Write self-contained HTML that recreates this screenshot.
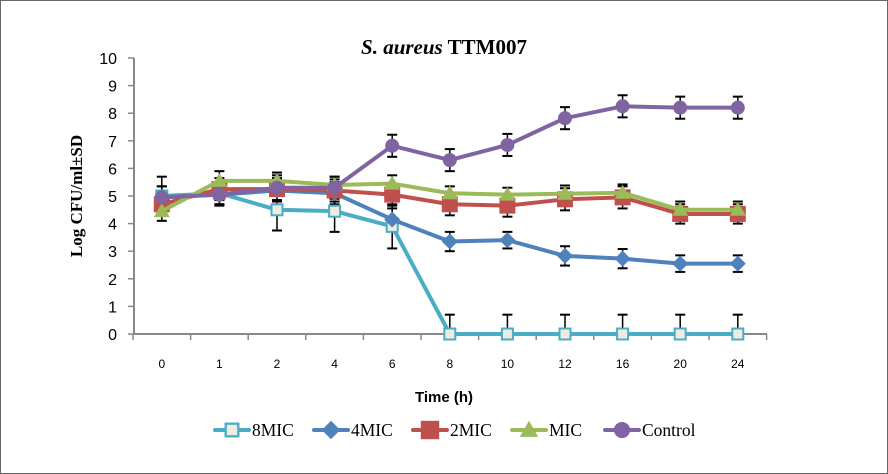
<!DOCTYPE html>
<html><head><meta charset="utf-8"><style>
body{margin:0;background:#fff}
svg{display:block}
</style></head><body>
<svg id="s" width="888" height="474" xmlns="http://www.w3.org/2000/svg">
<rect x="0.5" y="0.5" width="887" height="473" fill="#fff" stroke="#666"/>
<text x="444" y="54" text-anchor="middle" font-family="Liberation Serif, serif" font-size="21" font-weight="bold"><tspan font-style="italic">S. aureus</tspan> TTM007</text>
<text transform="translate(82,196) rotate(-90)" text-anchor="middle" font-family="Liberation Serif, serif" font-size="17" font-weight="bold">Log CFU/ml±SD</text>
<text x="444" y="402" text-anchor="middle" font-family="Liberation Sans, sans-serif" font-size="15" font-weight="bold">Time (h)</text>
<g id="g"></g>
</svg>
<script>
var g=document.getElementById('g'),h='';
function X(i){return 133+57.6*(i+0.5)}
function Y(v){return 334-27.6*v}
h+='<line x1="134" y1="58" x2="134" y2="334" stroke="#888" stroke-width="2"/>';
h+='<line x1="133" y1="334" x2="767" y2="334" stroke="#888" stroke-width="2"/>';
for(var v=0;v<=10;v++){h+='<line x1="128" y1="'+Y(v)+'" x2="134" y2="'+Y(v)+'" stroke="#888" stroke-width="1.5"/>';
h+='<text x="117" y="'+(Y(v)+6)+'" text-anchor="end" font-family="Liberation Sans, sans-serif" font-size="16">'+v+'</text>';}
var lab=[0,1,2,4,6,8,10,12,16,20,24];
for(var i=0;i<=11;i++){var x=133+57.6*i;h+='<line x1="'+x+'" y1="334" x2="'+x+'" y2="340" stroke="#888" stroke-width="1.5"/>';}
for(var i=0;i<11;i++)h+='<text x="'+X(i)+'" y="368" text-anchor="middle" font-family="Liberation Sans, sans-serif" font-size="12">'+lab[i]+'</text>';
var S=[
{c:'#4bacc6',m:'sq',d:[5.0,5.1,4.5,4.45,3.9,0,0,0,0,0,0],e:[0.7,0.4,0.75,0.75,0.8,0.7,0.7,0.7,0.7,0.7,0.7]},
{c:'#4f81bd',m:'di',d:[4.95,5.05,5.2,5.1,4.15,3.35,3.4,2.83,2.73,2.55,2.55],e:[0.4,0.35,0.4,0.4,0.4,0.35,0.3,0.35,0.35,0.3,0.3]},
{c:'#c0504d',m:'bs',d:[4.7,5.25,5.25,5.2,5.05,4.7,4.65,4.88,4.95,4.35,4.35],e:[0.4,0.4,0.4,0.4,0.4,0.4,0.4,0.4,0.4,0.35,0.35]},
{c:'#9bbb59',m:'tr',d:[4.45,5.55,5.55,5.4,5.45,5.1,5.05,5.08,5.12,4.5,4.5],e:[0.35,0.35,0.3,0.3,0.3,0.25,0.25,0.3,0.3,0.3,0.3]},
{c:'#8064a2',m:'ci',d:[4.95,5.05,5.3,5.3,6.82,6.3,6.85,7.82,8.25,8.2,8.2],e:[0.4,0.4,0.45,0.4,0.4,0.4,0.4,0.4,0.4,0.4,0.4]}];
function mk(s,x,y){var c=s.c;
if(s.m=='sq')return '<rect x="'+(x-5.5)+'" y="'+(y-5.5)+'" width="11" height="11" fill="#eeece1" stroke="'+c+'" stroke-width="2"/>';
if(s.m=='di')return '<polygon points="'+x+','+(y-8)+' '+(x+8)+','+y+' '+x+','+(y+8)+' '+(x-8)+','+y+'" fill="'+c+'"/>';
if(s.m=='bs')return '<rect x="'+(x-8)+'" y="'+(y-8)+'" width="16" height="16" fill="'+c+'"/>';
if(s.m=='tr')return '<polygon points="'+x+','+(y-8)+' '+(x+8)+','+(y+6)+' '+(x-8)+','+(y+6)+'" fill="'+c+'"/>';
return '<circle cx="'+x+'" cy="'+y+'" r="7" fill="'+c+'"/>';}
S.forEach(function(s){s.d.forEach(function(v,i){var x=X(i),lo=Math.max(0,v-s.e[i]),hi=v+s.e[i];
h+='<line x1="'+x+'" y1="'+Y(lo)+'" x2="'+x+'" y2="'+Y(hi)+'" stroke="#000" stroke-width="1.5"/>';
h+='<line x1="'+(x-5)+'" y1="'+Y(hi)+'" x2="'+(x+5)+'" y2="'+Y(hi)+'" stroke="#000" stroke-width="2"/>';
if(v-s.e[i]>0)h+='<line x1="'+(x-5)+'" y1="'+Y(lo)+'" x2="'+(x+5)+'" y2="'+Y(lo)+'" stroke="#000" stroke-width="2"/>';});});
S.forEach(function(s){var p=s.d.map(function(v,i){return X(i)+','+Y(v)}).join(' ');
h+='<polyline points="'+p+'" fill="none" stroke="'+s.c+'" stroke-width="4" stroke-linejoin="round"/>';
s.d.forEach(function(v,i){h+=mk(s,X(i),Y(v));});});
var L=[[213,'8MIC'],[312,'4MIC'],[411,'2MIC'],[510,'MIC'],[603,'Control']];
L.forEach(function(l,k){var s=S[k],x=l[0];
h+='<line x1="'+(x+2)+'" y1="430" x2="'+(x+36)+'" y2="430" stroke="'+s.c+'" stroke-width="4" stroke-linecap="round"/>';
var sc=1.15;h+='<g transform="translate('+(x+19)+',430) scale('+sc+')">'+mk(s,0,0)+'</g>';
h+='<text x="'+(x+39)+'" y="436" font-family="Liberation Serif, serif" font-size="17.5">'+l[1]+'</text>';});
g.innerHTML=h;
</script>
</body></html>
